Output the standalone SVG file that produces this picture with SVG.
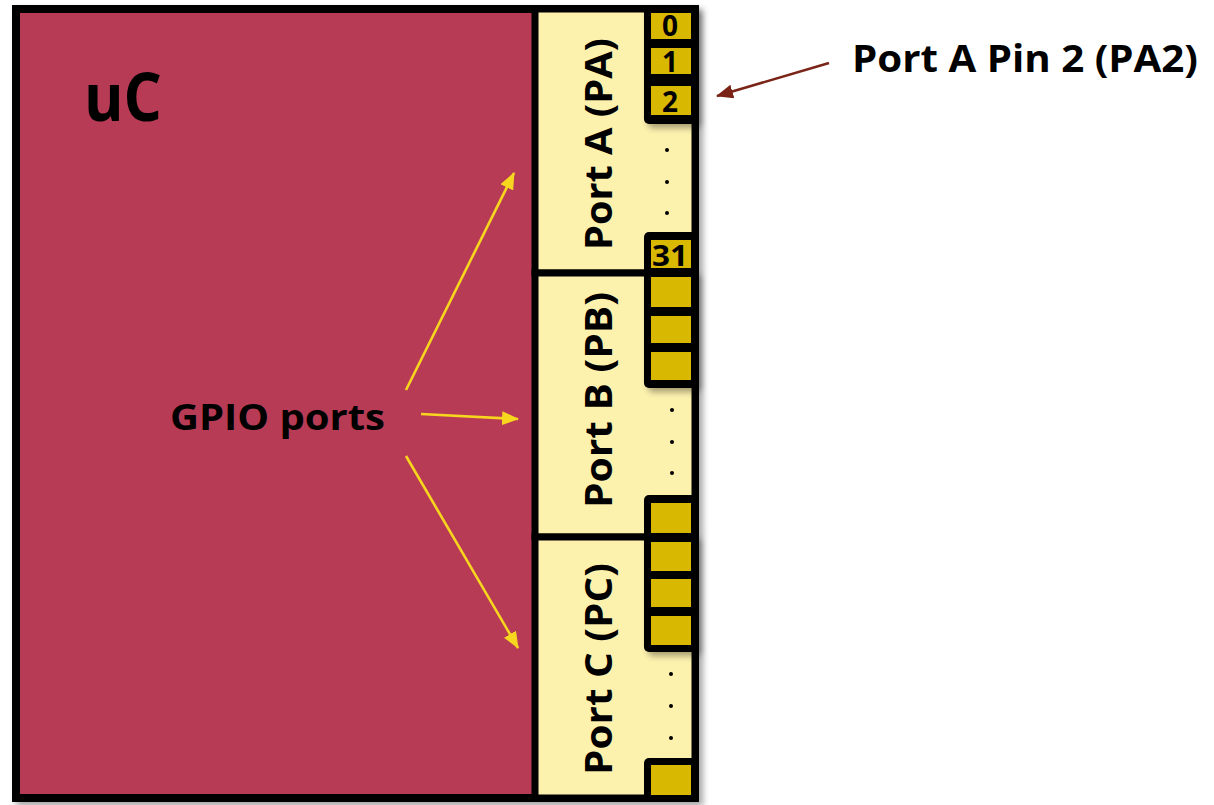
<svg xmlns="http://www.w3.org/2000/svg" width="1214" height="805" viewBox="0 0 1214 805">
<defs>
<style>
.lbl{font-family:"Open Sans","Liberation Sans",sans-serif;font-weight:bold;fill:#000}
.pin{fill:#D8B800}
.blk{fill:#000}
.dot{fill:#000}
.ya{stroke:#F6D61E;stroke-width:2.6;fill:none}
.ra{stroke:#7A2317;stroke-width:2.6;fill:none}
.pnum{font-family:"Open Sans","Liberation Sans",sans-serif;font-weight:bold;font-size:28px;fill:#000;text-anchor:middle}
</style>
<marker id="yh" markerUnits="userSpaceOnUse" markerWidth="18" markerHeight="14" refX="16" refY="7" orient="auto">
<path d="M0,0 L17,7 L0,14 z" fill="#F6D61E"/>
</marker>
<marker id="rh" markerUnits="userSpaceOnUse" markerWidth="18" markerHeight="14" refX="16" refY="7" orient="auto">
<path d="M0,0 L17,7 L0,14 z" fill="#7A2317"/>
</marker>
<filter id="sh" x="-10%" y="-10%" width="130%" height="130%">
<feDropShadow dx="4" dy="4" stdDeviation="3" flood-color="#000" flood-opacity="0.35"/>
</filter>
</defs>

<g id="uC">
<rect x="16" y="9" width="679" height="789" fill="#B83A54" stroke="#000" stroke-width="8" filter="url(#sh)"/>
<text class="lbl" x="84" y="121" font-size="66" textLength="78" lengthAdjust="spacingAndGlyphs">uC</text>
<text class="lbl" x="170" y="430" font-size="36" textLength="215" lengthAdjust="spacingAndGlyphs">GPIO ports</text>
</g>

<g id="portA">
<rect x="535" y="9" width="160" height="264" fill="#FDF1AE" stroke="#000" stroke-width="7"/>
<text class="lbl" transform="translate(612,250) rotate(-90)" font-size="38" textLength="212" lengthAdjust="spacingAndGlyphs">Port A (PA)</text>
<rect class="blk" x="644" y="6" width="53" height="118" rx="5" filter="url(#sh)"/>
<rect class="pin" x="651" y="13" width="40" height="26"/>
<rect class="pin" x="651" y="48" width="40" height="26"/>
<rect class="pin" x="651" y="86" width="40" height="29"/>
<text class="pnum" x="670" y="36">0</text>
<text class="pnum" x="670" y="72">1</text>
<text class="pnum" x="670" y="112">2</text>
<circle class="dot" cx="667" cy="150" r="2"/>
<circle class="dot" cx="667" cy="182" r="2"/>
<circle class="dot" cx="667" cy="213" r="2"/>
<rect class="blk" x="644" y="232" width="53" height="44" rx="5"/>
<rect class="pin" x="651" y="240" width="40" height="28"/>
<text class="pnum" x="670" y="266" textLength="36" lengthAdjust="spacingAndGlyphs">31</text>
</g>

<g id="portB">
<rect x="535" y="273" width="160" height="264" fill="#FDF1AE" stroke="#000" stroke-width="7"/>
<text class="lbl" transform="translate(612,508) rotate(-90)" font-size="38" textLength="216" lengthAdjust="spacingAndGlyphs">Port B (PB)</text>
<rect class="blk" x="644" y="270" width="53" height="118" rx="5" filter="url(#sh)"/>
<rect class="pin" x="651" y="277" width="40" height="30"/>
<rect class="pin" x="651" y="316" width="40" height="27"/>
<rect class="pin" x="651" y="352" width="40" height="28"/>
<circle class="dot" cx="672" cy="410" r="2"/>
<circle class="dot" cx="672" cy="442" r="2"/>
<circle class="dot" cx="672" cy="473" r="2"/>
<rect class="blk" x="644" y="495" width="53" height="45" rx="5"/>
<rect class="pin" x="651" y="503" width="40" height="30"/>
</g>

<g id="portC">
<rect x="535" y="537" width="160" height="261" fill="#FDF1AE" stroke="#000" stroke-width="7"/>
<text class="lbl" transform="translate(612,775) rotate(-90)" font-size="38" textLength="212" lengthAdjust="spacingAndGlyphs">Port C (PC)</text>
<rect class="blk" x="644" y="534" width="53" height="118" rx="5" filter="url(#sh)"/>
<rect class="pin" x="651" y="542" width="40" height="29"/>
<rect class="pin" x="651" y="579" width="40" height="28"/>
<rect class="pin" x="651" y="616" width="40" height="29"/>
<circle class="dot" cx="671" cy="674" r="2"/>
<circle class="dot" cx="671" cy="706" r="2"/>
<circle class="dot" cx="671" cy="738" r="2"/>
<rect class="blk" x="644" y="758" width="53" height="44" rx="5"/>
<rect class="pin" x="651" y="765" width="40" height="30"/>
</g>

<g id="pa2label">
<text class="lbl" x="852" y="72" font-size="38" textLength="346" lengthAdjust="spacingAndGlyphs">Port A Pin 2 (PA2)</text>
</g>

<g id="connectors">
<line class="ya" x1="406" y1="390" x2="514" y2="173" marker-end="url(#yh)"/>
<line class="ya" x1="421" y1="414" x2="518" y2="419" marker-end="url(#yh)"/>
<line class="ya" x1="406" y1="456" x2="518" y2="648" marker-end="url(#yh)"/>
<line class="ra" x1="829" y1="63" x2="717" y2="96" marker-end="url(#rh)"/>
</g>
</svg>
